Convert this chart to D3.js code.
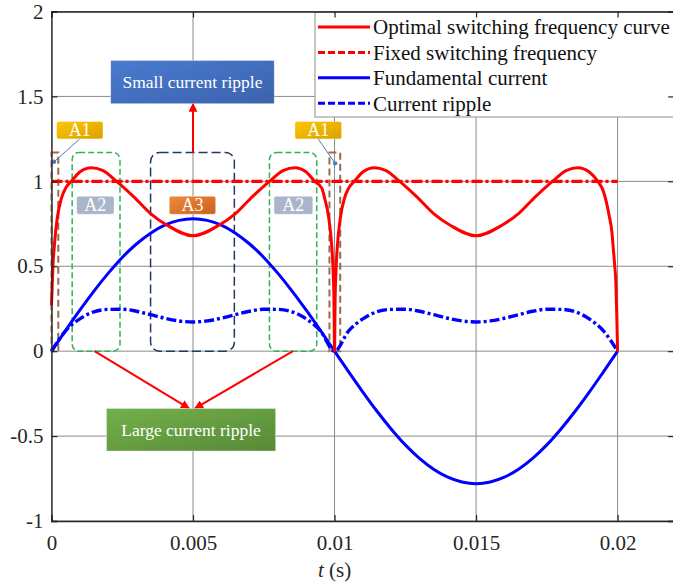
<!DOCTYPE html>
<html><head><meta charset="utf-8">
<script src="https://cdn.jsdelivr.net/npm/d3@7/dist/d3.min.js"></script>
<style>body{margin:0;background:#fff}svg{display:block}</style>
</head><body><svg id="c" width="673" height="587"></svg>
<script>
// ---- data ----
const xTicks = [0, 0.005, 0.01, 0.015, 0.02];
const xTickLabels = ["0", "0.005", "0.01", "0.015", "0.02"];
const yTicks = [-1, -0.5, 0, 0.5, 1, 1.5, 2];
const yTickLabels = ["-1", "-0.5", "0", "0.5", "1", "1.5", "2"];
const seriesNames = ["Optimal switching frequency curve", "Fixed switching frequency", "Fundamental current", "Current ripple"];

const tGrid = [0,0.0005,0.001,0.0015,0.002,0.0025,0.003,0.0035,0.004,0.0045,0.005,0.0055,0.006,0.0065,0.007,0.0075,0.008,0.0085,0.009,0.0095,0.01,
  0.0105,0.011,0.0115,0.012,0.0125,0.013,0.0135,0.014,0.0145,0.015,0.0155,0.016,0.0165,0.017,0.0175,0.018,0.0185,0.019,0.0195,0.02];
const fundamental = [0,0.122,0.241,0.354,0.458,0.552,0.631,0.695,0.742,0.770,0.780,0.770,0.742,0.695,0.631,0.552,0.458,0.354,0.241,0.122,0,
  -0.122,-0.241,-0.354,-0.458,-0.552,-0.631,-0.695,-0.742,-0.770,-0.780,-0.770,-0.742,-0.695,-0.631,-0.552,-0.458,-0.354,-0.241,-0.122,0];
const ripple = [0,0.12,0.19,0.232,0.246,0.247,0.235,0.215,0.194,0.178,0.172,0.178,0.194,0.215,0.235,0.247,0.246,0.232,0.19,0.12,0,
  0.12,0.19,0.232,0.246,0.247,0.235,0.215,0.194,0.178,0.172,0.178,0.194,0.215,0.235,0.247,0.246,0.232,0.19,0.12,0];

const tOpt = [0,0.00005,0.0001,0.0002,0.00035,0.0005,0.0007,0.001,0.0014,0.0018,0.0023,0.0029,0.0035,0.0041,0.005,
  0.0059,0.0065,0.0071,0.0077,0.0082,0.0086,0.009,0.0093,0.00955,0.00965,0.0098,0.0099,0.00995,0.00998,0.01,
  0.01002,0.01005,0.0101,0.0102,0.01035,0.0105,0.0107,0.011,0.0114,0.0118,0.0123,0.0129,0.0135,0.0141,0.015,
  0.0159,0.0165,0.0171,0.0177,0.0182,0.0186,0.019,0.0193,0.0195,0.0196,0.0197,0.0198,0.01985,0.0199,0.01994,0.01997,0.02];
const fOpt = [0.27,0.5,0.62,0.78,0.9,0.96,1.0,1.055,1.08,1.065,1.0,0.91,0.81,0.74,0.68,
  0.74,0.81,0.91,1.0,1.065,1.08,1.055,1.0,0.96,0.9,0.78,0.62,0.47,0.3,0,
  0.3,0.47,0.62,0.78,0.9,0.96,1.0,1.055,1.08,1.065,1.0,0.91,0.81,0.74,0.68,
  0.74,0.81,0.91,1.0,1.065,1.08,1.055,1.0,0.94,0.88,0.8,0.7,0.6,0.5,0.4,0.22,0];
const tFixed = [0, 0.02];
const fFixed = [1, 1];

// ---- setup ----
const SERIF = '"Liberation Serif", "Times New Roman", Times, serif';
const svg = d3.select("#c").attr("font-family", SERIF);
const x = d3.scaleLinear().domain([0, 0.022]).range([51.5, 674.2]);
const y = d3.scaleLinear().domain([-1, 2]).range([521, 11.5]);
const FS = 21;

// grid
const g = svg.append("g");
g.selectAll("line.vg").data(xTicks).join("line")
  .attr("x1", d => x(d)).attr("x2", d => x(d)).attr("y1", y(-1)).attr("y2", y(2))
  .attr("stroke", "#8a8a8a").attr("stroke-width", 1);
g.selectAll("line.hg").data(yTicks).join("line")
  .attr("x1", x(0)).attr("x2", x(0.022)).attr("y1", d => y(d)).attr("y2", d => y(d))
  .attr("stroke", "#8a8a8a").attr("stroke-width", 1);

// annotation boxes (in data units)
const ann = svg.append("g");
function rbox(t0, t1, v0, v1, color, dash, r, w) {
  ann.append("rect").attr("x", x(t0)).attr("y", y(v1)).attr("width", x(t1) - x(t0)).attr("height", y(v0) - y(v1))
    .attr("rx", r).attr("fill", "none").attr("stroke", color).attr("stroke-width", w).attr("stroke-dasharray", dash);
}
rbox(0.00073, 0.00242, 0, 1.17, "#2db35a", "6,3", 7, 1.5);
rbox(0.0077, 0.00937, 0, 1.17, "#2db35a", "6,3", 7, 1.5);
rbox(0.0035, 0.00646, 0, 1.17, "#1f3864", "9,4", 9, 1.5);
rbox(0.0000, 0.00024, 0, 1.17, "#9a6a48", "7,4", 0, 2);
rbox(0.00982, 0.0102, 0, 1.17, "#9a6a48", "7,4", 0, 2);

// curves
const lineGen = d3.line().x(d => x(d[0])).y(d => y(d[1]));
const lineMono = d3.line().x(d => x(d[0])).y(d => y(d[1])).curve(d3.curveMonotoneX);
svg.append("path").datum(d3.zip(tFixed, fFixed)).attr("d", lineGen)
  .attr("fill", "none").attr("stroke", "#ff0000").attr("stroke-width", 3.4).attr("stroke-dasharray", "11,3,3,3");
svg.append("path").datum(d3.zip(tGrid, fundamental)).attr("d", lineMono)
  .attr("fill", "none").attr("stroke", "#0000ff").attr("stroke-width", 3);
svg.append("path").datum(d3.zip(tGrid, ripple)).attr("d", lineMono)
  .attr("fill", "none").attr("stroke", "#0000ff").attr("stroke-width", 3.4).attr("stroke-dasharray", "10,3,3,3");
svg.append("path").datum(d3.zip(tOpt, fOpt)).attr("d", lineMono)
  .attr("fill", "none").attr("stroke", "#ff0000").attr("stroke-width", 3);

// gradients
const defs = svg.append("defs");
function grad(id, c1, c2) {
  const lg = defs.append("linearGradient").attr("id", id).attr("x1", 0).attr("y1", 0).attr("x2", 1).attr("y2", 1);
  lg.append("stop").attr("offset", 0).attr("stop-color", c1);
  lg.append("stop").attr("offset", 1).attr("stop-color", c2);
}
grad("gGold", "#ffc600", "#d9a200");
grad("gOrange", "#f08a3e", "#c8611c");
grad("gBlue", "#4a7bd0", "#3b62ad");
grad("gGreen", "#73b04a", "#578a38");
defs.append("marker").attr("id", "arr").attr("viewBox", "0 0 10 10").attr("refX", 9).attr("refY", 5)
  .attr("markerWidth", 9).attr("markerHeight", 9).attr("markerUnits", "userSpaceOnUse").attr("orient", "auto")
  .append("path").attr("d", "M0,0 L10,5 L0,10 Z").attr("fill", "#ff0000");

// arrows
function arrow(t0, v0, t1, v1) {
  ann.append("line").attr("x1", x(t0)).attr("y1", y(v0)).attr("x2", x(t1)).attr("y2", y(v1))
    .attr("stroke", "#ff0000").attr("stroke-width", 2).attr("marker-end", "url(#arr)");
}
arrow(0.005, 1.17, 0.005, 1.457);
arrow(0.00152, 0, 0.00486, -0.337);
arrow(0.00853, 0, 0.00507, -0.337);

// leader lines for A1
function leader(t0, v0, t1, v1) {
  ann.append("line").attr("x1", x(t0)).attr("y1", y(v0)).attr("x2", x(t1)).attr("y2", y(v1))
    .attr("stroke", "#4a7cc8").attr("stroke-width", 1);
  ann.append("circle").attr("cx", x(t1)).attr("cy", y(v1)).attr("r", 2.2).attr("fill", "#4a7cc8");
}
leader(0.001, 1.25, 0.00009, 1.115);
leader(0.00942, 1.25, 0.01002, 1.106);

// label boxes
function lbox(t0, t1, v0, v1, fill, txt, fs, rx) {
  ann.append("rect").attr("x", x(t0)).attr("y", y(v1)).attr("width", x(t1) - x(t0)).attr("height", y(v0) - y(v1))
    .attr("rx", rx).attr("fill", fill).attr("stroke", "rgba(255,255,255,0.5)").attr("stroke-width", 0.8);
  ann.append("text").attr("x", (x(t0) + x(t1)) / 2).attr("y", (y(v0) + y(v1)) / 2).attr("dy", "0.34em")
    .attr("text-anchor", "middle").attr("fill", "#fff").attr("font-size", fs).attr("font-family", SERIF).text(txt);
}
lbox(0.00018, 0.00182, 1.25, 1.352, "url(#gGold)", "A1", 18, 2);
lbox(0.0086, 0.01025, 1.25, 1.352, "url(#gGold)", "A1", 18, 2);
lbox(0.00089, 0.00221, 0.806, 0.912, "#a9b6c9", "A2", 18, 2);
lbox(0.00786, 0.00923, 0.806, 0.912, "#a9b6c9", "A2", 18, 2);
lbox(0.00416, 0.0058, 0.806, 0.912, "url(#gOrange)", "A3", 18, 2);
lbox(0.00209, 0.00787, 1.457, 1.712, "url(#gBlue)", "Small current ripple", 17.5, 0);
lbox(0.00194, 0.00792, -0.588, -0.337, "url(#gGreen)", "Large current ripple", 17.5, 0);

// legend
const lg = svg.append("g");
lg.append("rect").attr("x", 315).attr("y", 12).attr("width", 370).attr("height", 105)
  .attr("fill", "#fff").attr("stroke", "#a0a0a0").attr("stroke-width", 1.2);
const legStyles = [
  {c: "#ff0000", d: null}, {c: "#ff0000", d: "7,3"}, {c: "#0000ff", d: null}, {c: "#0000ff", d: "7,3"}
];
seriesNames.forEach((n, i) => {
  const cy = 27 + i * 25.4;
  lg.append("line").attr("x1", 318).attr("x2", 370).attr("y1", cy).attr("y2", cy)
    .attr("stroke", legStyles[i].c).attr("stroke-width", 3).attr("stroke-dasharray", legStyles[i].d);
  lg.append("text").attr("x", 373).attr("y", cy + 7.3).attr("font-size", FS).attr("font-family", SERIF)
    .attr("fill", "#111").text(n);
});

// axes
const axB = svg.append("g").attr("transform", `translate(0,${y(-1)})`)
  .call(d3.axisBottom(x).tickValues(xTicks).tickFormat((d, i) => xTickLabels[i]).tickSize(-6).tickPadding(14));
const axL = svg.append("g").attr("transform", `translate(${x(0)},0)`)
  .call(d3.axisLeft(y).tickValues(yTicks).tickFormat((d, i) => yTickLabels[i]).tickSize(-6).tickPadding(8));
const axT = svg.append("g").attr("transform", `translate(0,${y(2)})`)
  .call(d3.axisTop(x).tickValues(xTicks).tickFormat("").tickSize(-6));
const axR = svg.append("g").attr("transform", `translate(${x(0.022)},0)`)
  .call(d3.axisRight(y).tickValues(yTicks).tickFormat("").tickSize(-6));
[axB, axL, axT, axR].forEach(a => {
  a.attr("font-family", SERIF).attr("font-size", FS);
  a.select(".domain").attr("stroke", "#262626").attr("stroke-width", 1.3);
  a.selectAll(".tick line").attr("stroke", "#262626").attr("stroke-width", 1.2);
  a.selectAll("text").attr("font-size", FS).attr("fill", "#262626").attr("font-family", SERIF);
});

// x axis title
const xt = svg.append("text").attr("x", x(0.01)).attr("y", 577).attr("text-anchor", "middle")
  .attr("font-size", FS).attr("font-family", SERIF).attr("fill", "#262626");
xt.append("tspan").attr("font-style", "italic").text("t");
xt.append("tspan").text(" (s)");
</script></body></html>
